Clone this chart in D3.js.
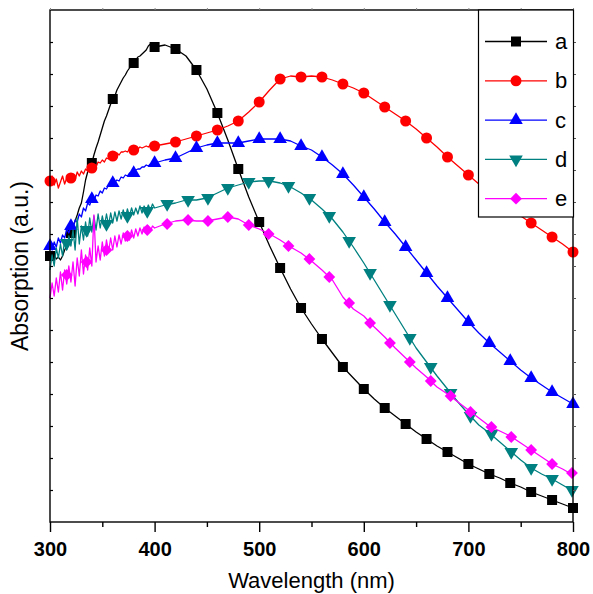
<!DOCTYPE html>
<html>
<head>
<meta charset="utf-8">
<script src="https://cdn.jsdelivr.net/npm/d3@7"></script>
<style>
  body { margin: 0; background: #fff; }
  svg { display: block; }
</style>
</head>
<body>
<div id="chart"></div>
<script>
// wavelength grid (nm): 2 nm steps in the noisy UV part, 10 nm after
var wavelength = [300,302,304,306,308,310,312,314,316,318,320,322,324,326,328,330,332,334,336,338,
  340,342,344,346,348,350,352,354,356,358,360,362,364,366,368,370,372,374,376,378,
  380,382,384,386,388,390,392,394,396,398,
  400,410,420,430,440,450,460,470,480,490,500,510,520,530,540,550,560,570,580,590,
  600,610,620,630,640,650,660,670,680,690,700,710,720,730,740,750,760,770,780,790,800];

// absorption, arbitrary units
var absA = [266,264,267,263,265,262,266,272,276,282,289,296,301,307,314,319,330,342,350,354,
  359,367,374,380,387,394,401,406,412,418,423,426,432,436,440,444,447,451,454,456,
  459,462,465,466,468,470,472,476,478,477,
  475,477,473,466,452,433,409,382,353,325,300,276,254,233,214,198,183,169,155,144,
  133,123,114,106,98,90,83,76,70,64,58,53,48,44,39,35,30,26,22,18,14];
var absB = [341,346,337,343,334,340,346,338,344,342,344,348,342,350,346,351,348,353,351,355,
  354,357,355,360,359,362,360,364,363,367,366,367,369,367,370,370,371,370,373,372,
  372,374,373,375,374,375,376,375,377,376,
  376,378,380,383,386,389,392,396,401,410,420,432,443,446,445,446,445,442,438,434,
  429,422,415,408,401,393,384,375,365,356,347,338,329,321,313,306,299,292,285,278,270];
var absC = [276,272,280,275,284,279,287,284,293,289,296,293,302,300,308,305,314,311,319,317,
  323,321,327,326,331,329,334,333,337,336,339,340,342,341,345,344,347,346,349,348,
  349,352,353,353,355,355,357,356,358,358,
  359,362,364,369,374,377,379,379,379,381,383,383,383,381,376,372,365,357,348,337,
  325,313,300,288,275,262,249,236,224,212,200,189,179,170,161,152,144,137,130,124,118];
var absD = [252,267,256,274,264,278,266,282,272,286,276,292,272,304,278,296,282,300,286,304,
  290,306,292,308,294,306,296,308,297,309,299,310,301,311,303,312,304,313,306,314,
  307,314,308,316,309,316,311,317,312,318,
  314,317,319,322,322,324,329,334,337,340,341,341,339,335,329,322,313,303,290,275,
  259,242,225,208,191,174,160,146,133,120,108,97,89,80,71,62,54,48,43,37,31];
var absE = [224,239,226,244,230,250,232,252,238,256,240,260,236,264,246,272,248,267,252,274,
  256,307,260,276,262,280,266,282,270,284,272,286,275,287,278,289,281,290,282,292,
  284,293,286,294,288,295,289,296,291,296,
  294,298,301,302,301,301,303,305,303,297,293,288,282,275,269,261,252,242,225,213,
  206,195,185,174,164,154,145,135,128,120,112,104,96,91,86,79,72,65,58,53,47];

// d and e carry their symbols on a slightly different grid
var markWlDE = [316,335,354,374,393,412,432,451,470,490,509,528,548,567,586,606,625,644,664,683,702,722,741,760,780,799];
var markD = [279,292,298,306,311,318,322,324,334,340,341,336,324,306,281,249,217,184,155,129,106,88,70,54,43,32];
var markE = [247,260,272,286,292,298,302,301,305,297,288,276,263,245,219,199,179,160,141,126,110,95,85,72,58,49];

var seriesNames = ["a", "b", "c", "d", "e"];
var seriesColors = ["#000000", "#ff0000", "#0000ff", "#008080", "#ff00ff"];
var xMajor = [300, 400, 500, 600, 700, 800];
var xMinor = [350, 450, 550, 650, 750];
var yTicks = [32,64,96,128,160,192,224,256,288,320,352,384,416,448,480];

var width = 593, height = 594,
    margin = {top: 10, right: 20, bottom: 72, left: 50};
var w = 523, h = 512;

var x = d3.scaleLinear().domain([300, 800]).range([margin.left, margin.left + w]);
var y = d3.scaleLinear().domain([0, 512]).range([margin.top + h, margin.top]);

var svg = d3.select("#chart").append("svg")
    .attr("width", width)
    .attr("height", height)
    .style("font-family", "'Liberation Sans', Arial, sans-serif");

// symbols
var sq = d3.symbol().type(d3.symbolSquare).size(100)();
var circ = d3.symbol().type(d3.symbolCircle).size(95)();
var tri = d3.symbol().type(d3.symbolTriangle).size(80)();
var dia = d3.symbol().type(d3.symbolSquare).size(70)();
var shapes = [
  {path: sq, rot: 0},
  {path: circ, rot: 0},
  {path: tri, rot: 0},
  {path: tri, rot: 180},
  {path: dia, rot: 45}
];

var line = d3.line()
    .x(function(d) { return x(d[0]); })
    .y(function(d) { return y(d[1]); });

var allAbs = [absA, absB, absC, absD, absE];

allAbs.forEach(function(vals, i) {
  var pts = wavelength.map(function(wl, k) { return [wl, vals[k]]; });
  var marks;
  if (i < 3) {
    marks = pts.filter(function(p) { return p[0] % 20 == 0; });
  } else {
    var mv = i == 3 ? markD : markE;
    marks = markWlDE.map(function(wl, k) { return [wl, mv[k]]; });
  }
  var g = svg.append("g").attr("class", "series-" + seriesNames[i]);
  g.append("path")
    .datum(pts)
    .attr("d", line)
    .attr("fill", "none")
    .attr("stroke", seriesColors[i])
    .attr("stroke-width", 1.3)
    .attr("stroke-linejoin", "round");
  g.selectAll("path.mark")
    .data(marks)
    .enter().append("path")
    .attr("class", "mark")
    .attr("d", shapes[i].path)
    .attr("transform", function(d) {
      return "translate(" + x(d[0]) + "," + y(d[1]) + ") rotate(" + shapes[i].rot + ")";
    })
    .attr("fill", seriesColors[i]);
});

// frame
svg.append("rect")
  .attr("x", margin.left).attr("y", margin.top)
  .attr("width", w).attr("height", h)
  .attr("fill", "none").attr("stroke", "#000").attr("stroke-width", 1.4);

// bottom axis, major with labels
var xAxis = svg.append("g")
  .attr("transform", "translate(0," + (margin.top + h) + ")")
  .call(d3.axisBottom(x).tickValues(xMajor).tickSize(10).tickPadding(10).tickFormat(d3.format("d")));
xAxis.select(".domain").remove();
xAxis.selectAll("line").attr("stroke-width", 1.4);
xAxis.selectAll("text")
  .style("font-size", "20px")
  .style("font-weight", "bold")
  .style("font-family", "'Liberation Sans', Arial, sans-serif")
  .attr("fill", "#000");

var xAxisMinor = svg.append("g")
  .attr("transform", "translate(0," + (margin.top + h) + ")")
  .call(d3.axisBottom(x).tickValues(xMinor).tickSize(5).tickFormat(""));
xAxisMinor.select(".domain").remove();
xAxisMinor.selectAll("line").attr("stroke-width", 1.4);

// top axis, tiny outward ticks
var xTop = svg.append("g")
  .attr("transform", "translate(0," + margin.top + ")")
  .call(d3.axisTop(x).tickValues(xMinor.concat(xMajor)).tickSize(2).tickFormat(""));
xTop.select(".domain").remove();
xTop.selectAll("line").attr("stroke", "#888");

// left axis, inward ticks, no labels
var yLeft = svg.append("g")
  .attr("transform", "translate(" + margin.left + ",0)")
  .call(d3.axisLeft(y).tickValues(yTicks).tickSize(-3).tickFormat(""));
yLeft.select(".domain").remove();
yLeft.selectAll("line").attr("stroke-width", 1.2);

// right axis
var yRight = svg.append("g")
  .attr("transform", "translate(" + (margin.left + w) + ",0)")
  .call(d3.axisRight(y).tickValues(yTicks).tickSize(3).tickFormat(""));
yRight.select(".domain").remove();
yRight.selectAll("line").attr("stroke", "#555");

// axis titles
svg.append("text")
  .attr("x", margin.left + w / 2)
  .attr("y", 588)
  .attr("text-anchor", "middle")
  .style("font-size", "22px")
  .text("Wavelength (nm)");

svg.append("text")
  .attr("transform", "translate(28," + (margin.top + h / 2) + ") rotate(-90)")
  .attr("text-anchor", "middle")
  .style("font-size", "23px")
  .text("Absorption (a.u.)");

// legend
var legend = svg.append("g").attr("class", "legend");
legend.append("rect")
  .attr("x", 478.5).attr("y", 10)
  .attr("width", 95).attr("height", 207)
  .attr("fill", "#fff").attr("stroke", "#000").attr("stroke-width", 1.2);

seriesNames.forEach(function(name, i) {
  var ly = 41.5 + i * 39.3;
  legend.append("line")
    .attr("x1", 485).attr("x2", 547)
    .attr("y1", ly).attr("y2", ly)
    .attr("stroke", seriesColors[i]).attr("stroke-width", 1.3);
  legend.append("path")
    .attr("d", shapes[i].path)
    .attr("transform", "translate(516," + ly + ") rotate(" + shapes[i].rot + ")")
    .attr("fill", seriesColors[i]);
  legend.append("text")
    .attr("x", 555)
    .attr("y", ly + 7.5)
    .style("font-size", "22px")
    .text(name);
});
</script>
</body>
</html>
